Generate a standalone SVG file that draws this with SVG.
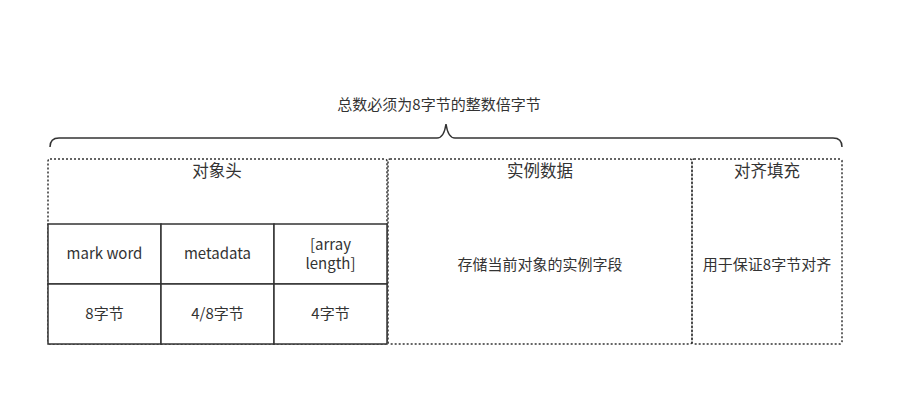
<svg xmlns="http://www.w3.org/2000/svg" width="904" height="406" viewBox="0 0 904 406">
<style>
text{font-family:"Noto Sans CJK SC","Noto Sans",sans-serif;fill:#333;text-anchor:middle}
.t{font-size:15px}
.h{font-size:16.5px}
.dot{fill:none;stroke:#333;stroke-width:1.5;stroke-dasharray:2 2}
.cell{fill:#fff;stroke:#333;stroke-width:1.5}
</style>
<rect width="904" height="406" fill="#fff"/>
<g id="brace">
<path d="M50 147 Q50 138 59 138 L437 138 Q444 138 446 124 Q448 138 455 138 L833 138 Q842 138 842 147" fill="none" stroke="#333" stroke-width="1.5"/>
<text class="t" x="439" y="110">总数必须为8字节的整数倍字节</text>
</g>
<g id="header">
<rect class="dot" x="48" y="159" width="339" height="185" rx="2"/>
<text class="h" x="217" y="177">对象头</text>
</g>
<g id="instance">
<rect class="dot" x="388" y="159" width="304" height="185" rx="2"/>
<text class="h" x="540" y="177">实例数据</text>
<text class="t" x="540" y="270">存储当前对象的实例字段</text>
</g>
<g id="padding">
<rect class="dot" x="692" y="159" width="150" height="185" rx="2"/>
<text class="h" x="767" y="177">对齐填充</text>
<text class="t" x="767" y="270">用于保证8字节对齐</text>
</g>
<g id="markword">
<rect class="cell" x="48" y="224" width="113" height="60"/>
<text class="t" x="104.5" y="259">mark word</text>
</g>
<g id="metadata">
<rect class="cell" x="161" y="224" width="113" height="60"/>
<text class="t" x="217.5" y="259">metadata</text>
</g>
<g id="arraylength">
<rect class="cell" x="274" y="224" width="113" height="60"/>
<text class="t" x="330.5" y="250">[array</text>
<text class="t" x="330.5" y="269">length]</text>
</g>
<g id="size8">
<rect class="cell" x="48" y="284" width="113" height="60"/>
<text class="t" x="104.5" y="319">8字节</text>
</g>
<g id="size48">
<rect class="cell" x="161" y="284" width="113" height="60"/>
<text class="t" x="217.5" y="319">4/8字节</text>
</g>
<g id="size4">
<rect class="cell" x="274" y="284" width="113" height="60"/>
<text class="t" x="330.5" y="319">4字节</text>
</g>
<g id="connectors"></g>
</svg>
